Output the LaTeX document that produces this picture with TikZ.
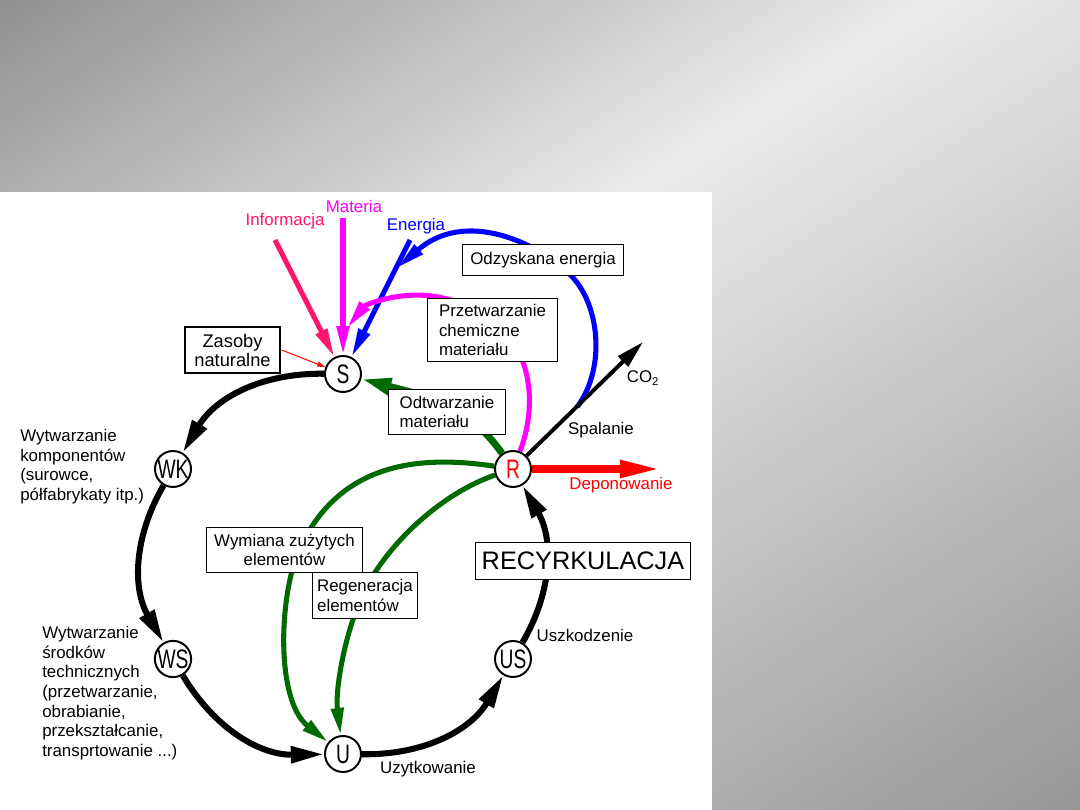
\documentclass[tikz,border=0pt]{standalone}
\usepackage{fontspec}
\setmainfont{Liberation Sans}
\newfontfamily\cadfont{Liberation Sans}[FakeStretch=0.72]
\usetikzlibrary{arrows.meta}

\definecolor{infpink}{RGB}{255,20,110}
\definecolor{matmag}{RGB}{255,0,255}
\definecolor{enblue}{RGB}{0,0,255}
\definecolor{recgreen}{RGB}{0,105,0}
\definecolor{bgA}{RGB}{144,144,144}
\definecolor{bgB}{RGB}{235,235,235}
\definecolor{bgC}{RGB}{150,150,150}

\pgfdeclarehorizontalshading{slidebg}{100bp}{color(0bp)=(bgA); color(25bp)=(bgA);
  color(44.8bp)=(bgB); color(75bp)=(bgC); color(100bp)=(bgC)}

\tikzset{%
    stage/.style={circle, draw, fill=white, line width=1.4pt, minimum size=0.9cm,
        inner sep=0pt, font=\cadfont\fontsize{19}{19}\selectfont},
    tbox/.style={draw, fill=white, line width=0.7pt, inner sep=0pt, align=left,
        font=\fontsize{12}{14}\selectfont},
    txt/.style={inner sep=0pt, align=left, font=\fontsize{12}{14}\selectfont},
    cyc/.style={line width=4.3pt, -{Triangle[length=0.83cm, width=0.4cm]}},
    grn/.style={recgreen, line width=3.6pt, -{Triangle[length=0.68cm, width=0.3cm]}},
    thin/.style={line width=3.6pt, -{Triangle[length=0.72cm, width=0.3cm]}}
}

\begin{document}
\begin{tikzpicture}[x=0.025cm, y=0.025cm]
  \useasboundingbox (0,0) rectangle (1080,810);
  \begin{scope}
    \clip (0,0) rectangle (1080,810);
    \begin{scope}[transform canvas={rotate around={-57.6:(0,810)}}]
      \shade[shading=slidebg] (0,200) rectangle (1263,1900);
    \end{scope}
  \end{scope}
  \fill[white] (0,0) rectangle (712,618);

  \node[stage] (S) at (343,436) {S};
  \node[stage] (WK) at (173,341) {WK};
  \node[stage] (WS) at (173,151) {WS};
  \node[stage] (U) at (343,56) {U};
  \node[stage] (US) at (513,151) {US};
  \node[stage, text=red] (R) at (513,341) {R};

  \node[txt, text=infpink] (inf) at (285,589) {Informacja};
  \node[txt, text=matmag] (mat) at (354,604) {Materia};
  \node[txt, text=enblue] (ene) at (416,584) {Energia};

  \coordinate (infs) at (275,570);
  \coordinate (mats) at (343,592);
  \coordinate (ens) at (410,570);
  \coordinate (en) at (397,542);
  \coordinate (mt) at (347,482);
  \coordinate (sp) at (577,403);
  \coordinate (co2) at (643,468);
  \coordinate (dep) at (662,341);

  \draw[cyc] (S) to[bend right=30] (WK);
  \draw[cyc] (WK) to[bend right=30] (WS);
  \draw[cyc] (WS) to[bend right=30] (U);
  \draw[cyc] (U) to[bend right=30] (US);
  \draw[cyc] (US) to[bend right=30] (R);

  \draw[thin, infpink] (infs) -- (S);
  \draw[thin, matmag] (mats) -- (S);
  \draw[thin, enblue] (ens) -- (S);

  \draw[thin, matmag] (R) .. controls (540,410) and (535,495) .. (438,513)
    .. controls (400,520) and (365,505) .. (mt);
  \draw[thin, enblue] (sp) .. controls (605,440) and (600,500) .. (575,530)
    .. controls (550,560) and (470,605) .. (en);

  \draw[line width=2.8pt, -{Triangle[length=0.7cm, width=0.35cm]}] (R) -- (co2);
  \draw[red, line width=5.7pt, -{Triangle[length=1.05cm, width=0.4cm]}] (R) -- (dep);

  \draw[grn, line width=5pt, -{Triangle[length=0.75cm, width=0.4cm]}]
    (R) to[out=125, in=-15] (S);
  \draw[grn] (R) .. controls (420,355) and (340,348) .. (300,262)
    .. controls (279,217) and (275,110) .. (U);
  \draw[grn] (R) .. controls (445,318) and (390,270) .. (365,220)
    .. controls (345,180) and (335,120) .. (U);

  \node[tbox, line width=2.1pt, align=center, minimum width=2.375cm, minimum height=1.15cm,
    font=\fontsize{13}{13.5}\selectfont] (zas) at (232.5,460) {Zasoby\\naturalne};
  \draw[red, line width=0.7pt, -{Triangle[length=0.2cm, width=0.12cm]}] (zas.east) -- (S);

  \node[tbox, minimum width=4cm, minimum height=0.75cm] (odz) at (543,550) {Odzyskana energia};
  \node[tbox, minimum width=3.225cm, minimum height=1.55cm] (prz) at (492.5,480)
    {Przetwarzanie\\chemiczne\\materiału};
  \node[tbox, minimum width=2.9cm, minimum height=1.1cm] (odt) at (447,398)
    {Odtwarzanie\\materiału};
  \node[tbox, align=center, minimum width=3.875cm, minimum height=1.1cm] (wym) at (284.5,260)
    {Wymiana zużytych\\elementów};
  \node[tbox, minimum width=2.6cm, minimum height=1.125cm] (reg) at (365,214.5)
    {Regeneracja\\elementów};
  \node[tbox, minimum width=5.35cm, minimum height=0.925cm,
    font=\fontsize{18}{18}\selectfont] (rec) at (583,249.5) {RECYRKULACJA};

  \node[txt] (co2l) at (643,432) {CO\textsubscript{2}};
  \node[txt] (spal) at (601,380) {Spalanie};
  \node[txt, text=red] (depl) at (621,325) {Deponowanie};
  \node[txt] (uszk) at (585,175) {Uszkodzenie};
  \node[txt] (uzyt) at (428,41) {Uzytkowanie};
  \node[txt, anchor=north west] (wk1) at (20,381)
    {Wytwarzanie\\komponentów\\(surowce,\\półfabrykaty itp.)};
  \node[txt, anchor=north west] (ws1) at (42,184)
    {Wytwarzanie\\środków\\technicznych\\(przetwarzanie,\\obrabianie,\\przekształcanie,\\transprtowanie ...)};
\end{tikzpicture}
\end{document}
